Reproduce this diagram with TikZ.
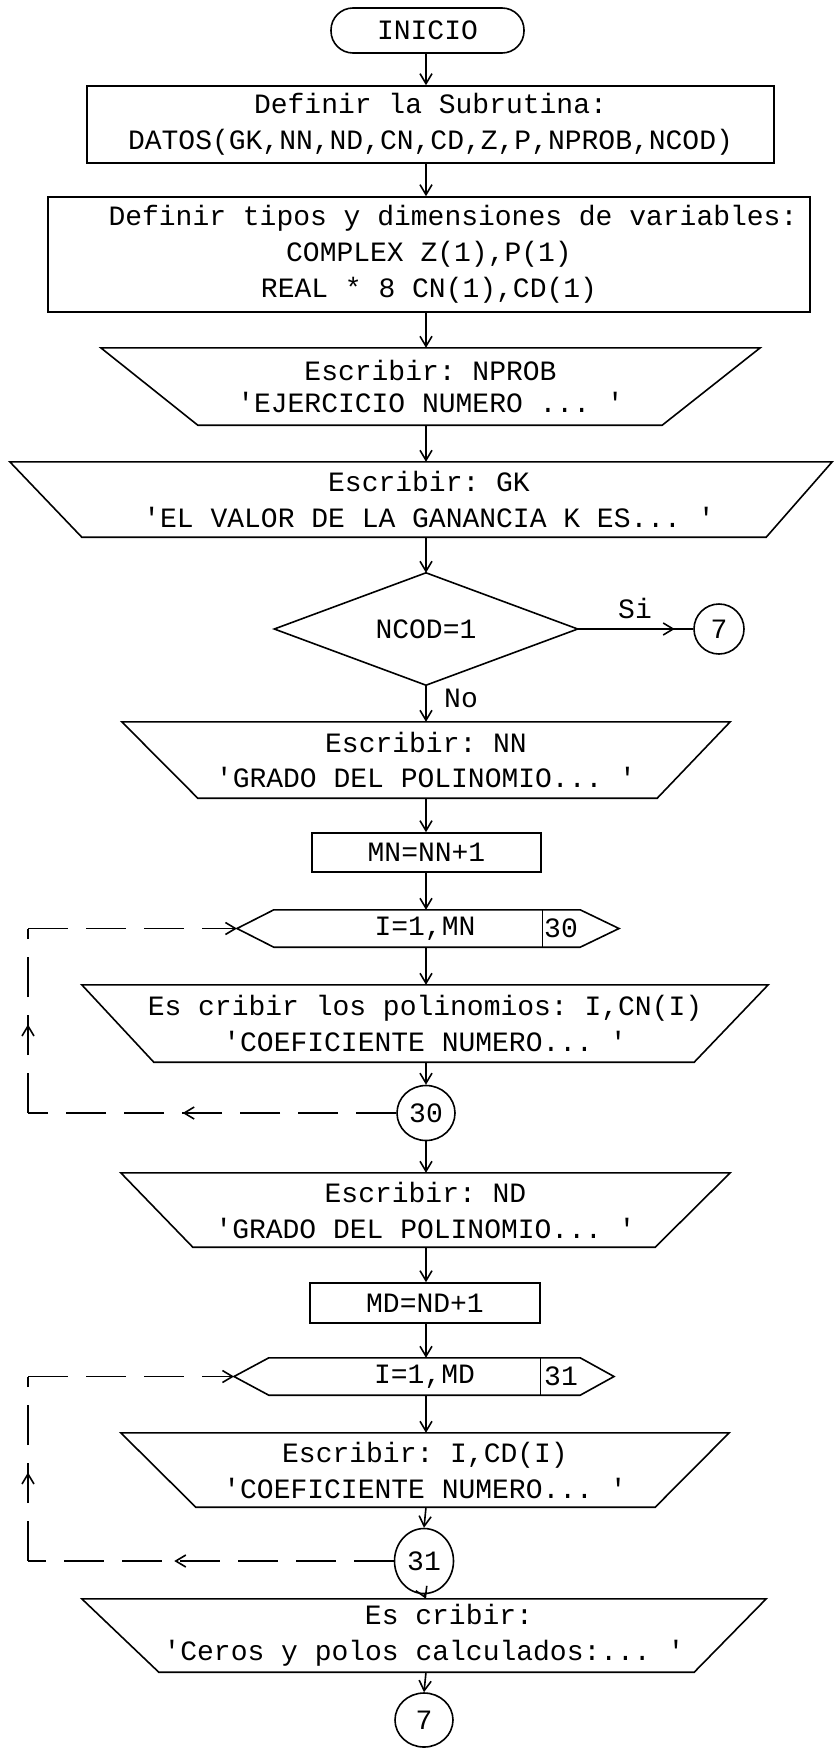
\documentclass[tikz,border=0pt]{standalone}
\usepackage{fontspec}
\setmonofont{Liberation Mono}
\usetikzlibrary{arrows.meta,calc,shapes.geometric,decorations.markings}
\begin{document}
\begin{tikzpicture}[x=1pt,y=-1pt,
  every node/.style={font=\ttfamily\fontsize{28}{36}\selectfont, inner sep=0pt, align=center},
  ln/.style={line width=1.6pt},
  arr/.style={ln,-{Straight Barb[length=10pt,width=12pt]}},
  dsh/.style={ln, dash pattern=on 40pt off 18pt},
  rbox/.style={draw, ln},
  midarr/.style={postaction=decorate, decoration={markings, mark=at position #1 with {\arrow{Straight Barb[length=10pt,width=12pt]}}}},
]
\useasboundingbox (0,0) rectangle (834,1748);
\coordinate (ax) at (426,0);

% start
\node[draw, ln, rounded corners=22pt, minimum width=193pt, minimum height=45pt] (ini) at (427.5,30.5) {INICIO};

% boxes
\node[rbox, minimum width=687pt, minimum height=77pt] (b1) at (430.5,124.5) {Definir la Subrutina:\\DATOS(GK,NN,ND,CN,CD,Z,P,NPROB,NCOD)};
\node[rbox, minimum width=762pt, minimum height=115pt] (b2) at (429,254.5) {\hspace*{48pt}Definir tipos y dimensiones de variables:\\COMPLEX Z(1),P(1)\\REAL * 8 CN(1),CD(1)};

% trapezoid 1
\node[minimum width=659pt, minimum height=77pt] (t1) at (430.5,386.5) {Escribir: NPROB\\[-4pt]'EJERCICIO NUMERO ... '};
\draw[ln] (t1.north west) -- (t1.north east) -- ($(t1.south east)+(-98,0)$) -- ($(t1.south west)+(97,0)$) -- cycle;

% trapezoid 2
\node[minimum width=822pt, minimum height=75pt] (t2) at (421,499.5) {\hspace*{16pt}Escribir: GK\\\hspace*{16pt}'EL VALOR DE LA GANANCIA K ES... '};
\draw[ln] (t2.north west) -- (t2.north east) -- ($(t2.south east)+(-66,0)$) -- ($(t2.south west)+(72,0)$) -- cycle;

% decision
\node[minimum width=303pt, minimum height=112pt] (d) at (426,629) {NCOD=1};
\draw[ln] (d.north) -- (d.east) -- (d.south) -- (d.west) -- cycle;
\node[draw, ln, circle, minimum size=50pt] (c7a) at (719,629) {7};
\node (si) at (635,608) {Si};
\node (no) at (461,698) {No};

% trapezoid 3
\node[minimum width=608pt, minimum height=76pt] (t3) at (426,760) {Escribir: NN\\[-1pt]'GRADO DEL POLINOMIO... '};
\draw[ln] (t3.north west) -- (t3.north east) -- ($(t3.south east)+(-73,0)$) -- ($(t3.south west)+(76,0)$) -- cycle;

\node[rbox, minimum width=229pt, minimum height=39pt] (mn) at (426.5,852.5) {MN=NN+1};

% loop 1 header
\node[minimum width=306pt, minimum height=37pt] (h1) at (427,928.5) {\hspace*{-4pt}I=1,MN};
\coordinate (h1l) at (237,928.5);
\coordinate (h1r) at (619,928.5);
\coordinate (h1d) at (542,928.5);
\draw[ln] (h1l) -- (h1.north west) -- (h1.north east) -- (h1r) -- (h1.south east) -- (h1.south west) -- cycle;
\draw[line width=1pt] (h1.north -| h1d) -- (h1.south -| h1d);
\node (h1n) at (561,928.5) {30};

% trapezoid 4
\node[minimum width=686pt, minimum height=77pt] (t4) at (425,1023.5) {Es cribir los polinomios: I,CN(I)\\'COEFICIENTE NUMERO... '};
\draw[ln] (t4.north west) -- (t4.north east) -- ($(t4.south east)+(-74,0)$) -- ($(t4.south west)+(72,0)$) -- cycle;

\node[draw, ln, ellipse, minimum width=58pt, minimum height=55pt] (c30) at (426,1113) {30};

% trapezoid 5
\node[minimum width=609pt, minimum height=74pt] (t5) at (425.5,1210) {Escribir: ND\\'GRADO DEL POLINOMIO... '};
\draw[ln] (t5.north west) -- (t5.north east) -- ($(t5.south east)+(-75,0)$) -- ($(t5.south west)+(72,0)$) -- cycle;

\node[rbox, minimum width=230pt, minimum height=40pt] (md) at (425,1303) {MD=ND+1};

% loop 2 header
\node[minimum width=311pt, minimum height=37pt] (h2) at (424.5,1376.5) {I=1,MD};
\coordinate (h2l) at (234,1376.5);
\coordinate (h2r) at (614,1376.5);
\coordinate (h2d) at (540,1376.5);
\draw[ln] (h2l) -- (h2.north west) -- (h2.north east) -- (h2r) -- (h2.south east) -- (h2.south west) -- cycle;
\draw[line width=1pt] (h2.north -| h2d) -- (h2.south -| h2d);
\node (h2n) at (561,1376.5) {31};

% trapezoid 6
\node[minimum width=608pt, minimum height=74pt] (t6) at (425,1470) {Escribir: I,CD(I)\\'COEFICIENTE NUMERO... '};
\draw[ln] (t6.north west) -- (t6.north east) -- ($(t6.south east)+(-74,0)$) -- ($(t6.south west)+(75,0)$) -- cycle;

\node[draw, ln, ellipse, minimum width=59pt, minimum height=65pt] (c31) at (424,1561) {31};

% trapezoid 7
\node[minimum width=684pt, minimum height=73pt] (t7) at (424,1635.5) {\hspace*{50pt}Es cribir:\\'Ceros y polos calculados:... '};
\draw[ln] (t7.north west) -- (t7.north east) -- ($(t7.south east)+(-72,0)$) -- ($(t7.south west)+(77,0)$) -- cycle;

\node[draw, ln, ellipse, minimum width=58pt, minimum height=54pt] (c7b) at (424,1720) {7};

% main connectors
\draw[arr] (ini.south -| ax) -- (b1.north -| ax);
\draw[arr] (b1.south -| ax) -- (b2.north -| ax);
\draw[arr] (b2.south -| ax) -- (t1.north -| ax);
\draw[arr] (t1.south -| ax) -- (t2.north -| ax);
\draw[arr] (t2.south -| ax) -- (d.north);
\draw[arr] (d.south) -- (t3.north -| ax);
\draw[ln, midarr=0.84] (d.east) -- (c7a.west);
\draw[arr] (t3.south -| ax) -- (mn.north -| ax);
\draw[arr] (mn.south -| ax) -- (h1.north -| ax);
\draw[arr] (h1.south -| ax) -- (t4.north -| ax);
\draw[arr] (t4.south -| ax) -- (c30.north);
\draw[arr] (c30.south) -- (t5.north -| ax);
\draw[arr] (t5.south -| ax) -- (md.north -| ax);
\draw[arr] (md.south -| ax) -- (h2.north -| ax);
\draw[arr] (h2.south -| ax) -- (t6.north -| ax);
\draw[arr] (t6.south -| ax) -- (c31.north);
\draw[arr] (c31.south) -- (t7.north -| ax);
\draw[arr] (t7.south -| ax) -- (c7b.north);

% loop 1
\coordinate (l1b) at (28,1113);
\coordinate (l1t) at (28,928.5);
\draw[dsh, midarr=0.58] (c30.west) -- (l1b);
\draw[dsh, midarr=0.48] (l1b) -- (l1t);
\draw[dsh, arr] (l1t) -- (h1l);

% loop 2
\coordinate (l2b) at (28,1561);
\coordinate (l2t) at (28,1376.5);
\draw[dsh, midarr=0.6] (c31.west) -- (l2b);
\draw[dsh, midarr=0.48] (l2b) -- (l2t);
\draw[dsh, arr] (l2t) -- (h2l);
\end{tikzpicture}
\end{document}
